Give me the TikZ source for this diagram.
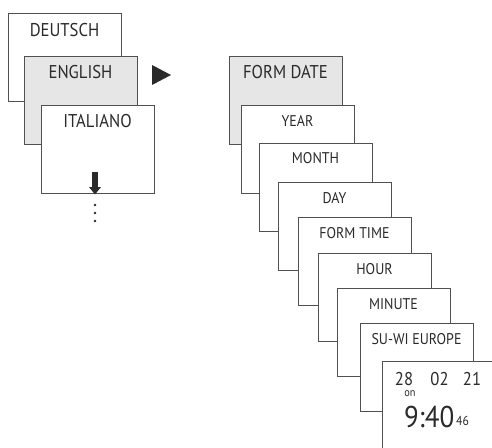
\documentclass[tikz,border=0pt]{standalone}
\usepackage{fontspec}
\setmainfont{PT Sans}[FakeStretch=0.9]
\usetikzlibrary{arrows.meta}
\definecolor{lgray}{HTML}{E6E6E6}
\definecolor{edge}{HTML}{505050}
\definecolor{ink}{HTML}{2A2A2A}
\begin{document}
\begin{tikzpicture}[x=1pt,y=-1pt,
  screen/.style={draw=edge,line width=0.9pt,fill=white,minimum width=113pt,minimum height=88pt,anchor=north west,inner sep=0pt,outer sep=0pt},
  shaded/.style={screen,fill=lgray},
  bigtxt/.style={font=\fontsize{18.5}{20}\selectfont,text=ink,inner sep=0pt,anchor=center},
  smalltxt/.style={font=\fontsize{15.5}{17}\selectfont,text=ink,inner sep=0pt,anchor=center},
  clocktxt/.style={text=ink,inner sep=0pt}]
\useasboundingbox (0,0) rectangle (492,447);
% left column
\node[screen] (de) at (8,13) {};
\node[bigtxt] (tde) at ([yshift=-17pt]de.north) {DEUTSCH};
\node[shaded] (en) at (24,56) {};
\node[bigtxt] (ten) at ([yshift=-16pt]en.north) {ENGLISH};
\node[screen] (it) at (41,105) {};
\node[bigtxt] (tit) at ([yshift=-16.5pt]it.north) {ITALIANO};
\coordinate (arS) at (95,172);
\coordinate (arE) at (95,194.5);
\draw[ink,line width=6pt,-{Triangle[width=11.5pt,length=7.5pt]}] (arS) -- (arE);
\foreach \yy in {205,213,221} \fill[ink] (95,\yy) circle (1.4);
% triangle
\fill[ink] (152,65) -- (152,85) -- (171,75) -- cycle;
% right column
\node[shaded] (fd) at (229,56) {};
\node[bigtxt] (tfd) at ([yshift=-16.5pt]fd.north) {FORM DATE};
\node[screen] (yr) at (241,105) {};
\node[smalltxt] (tyr) at ([yshift=-15.5pt]yr.north) {YEAR};
\node[screen] (mo) at (259,143) {};
\node[smalltxt] (tmo) at ([yshift=-15.5pt]mo.north) {MONTH};
\node[screen] (dy) at (278,182) {};
\node[smalltxt] (tdy) at ([yshift=-16pt]dy.north) {DAY};
\node[screen] (ft) at (298,217) {};
\node[smalltxt] (tft) at ([yshift=-16pt]ft.north) {FORM TIME};
\node[screen] (hr) at (318,253) {};
\node[smalltxt] (thr) at ([yshift=-16pt]hr.north) {HOUR};
\node[screen] (mi) at (337,288) {};
\node[smalltxt] (tmi) at ([yshift=-16pt]mi.north) {MINUTE};
\node[screen] (su) at (360,323) {};
\node[smalltxt] (tsu) at ([yshift=-16pt]su.north) {SU-WI EUROPE};
\node[screen] (cl) at (382,361) {};
\node[clocktxt,font=\fontsize{18.5}{20}\selectfont,anchor=base] (d1) at (404,385) {28};
\node[clocktxt,font=\fontsize{18.5}{20}\selectfont,anchor=base] (d2) at (439.5,385) {02};
\node[clocktxt,font=\fontsize{18.5}{20}\selectfont,anchor=base] (d3) at (472,385) {21};
\node[clocktxt,font=\fontsize{11.5}{12}\selectfont,text height=6pt,text depth=0pt,anchor=base] (on) at (410,396.5) {on};
\node[clocktxt,font=\fontsize{30}{32}\selectfont,anchor=base west] (tm) at (404,427) {9:40};
\node[clocktxt,font=\fontsize{13}{14}\selectfont,anchor=base west] (sc) at (456,425) {46};
\end{tikzpicture}
\end{document}
